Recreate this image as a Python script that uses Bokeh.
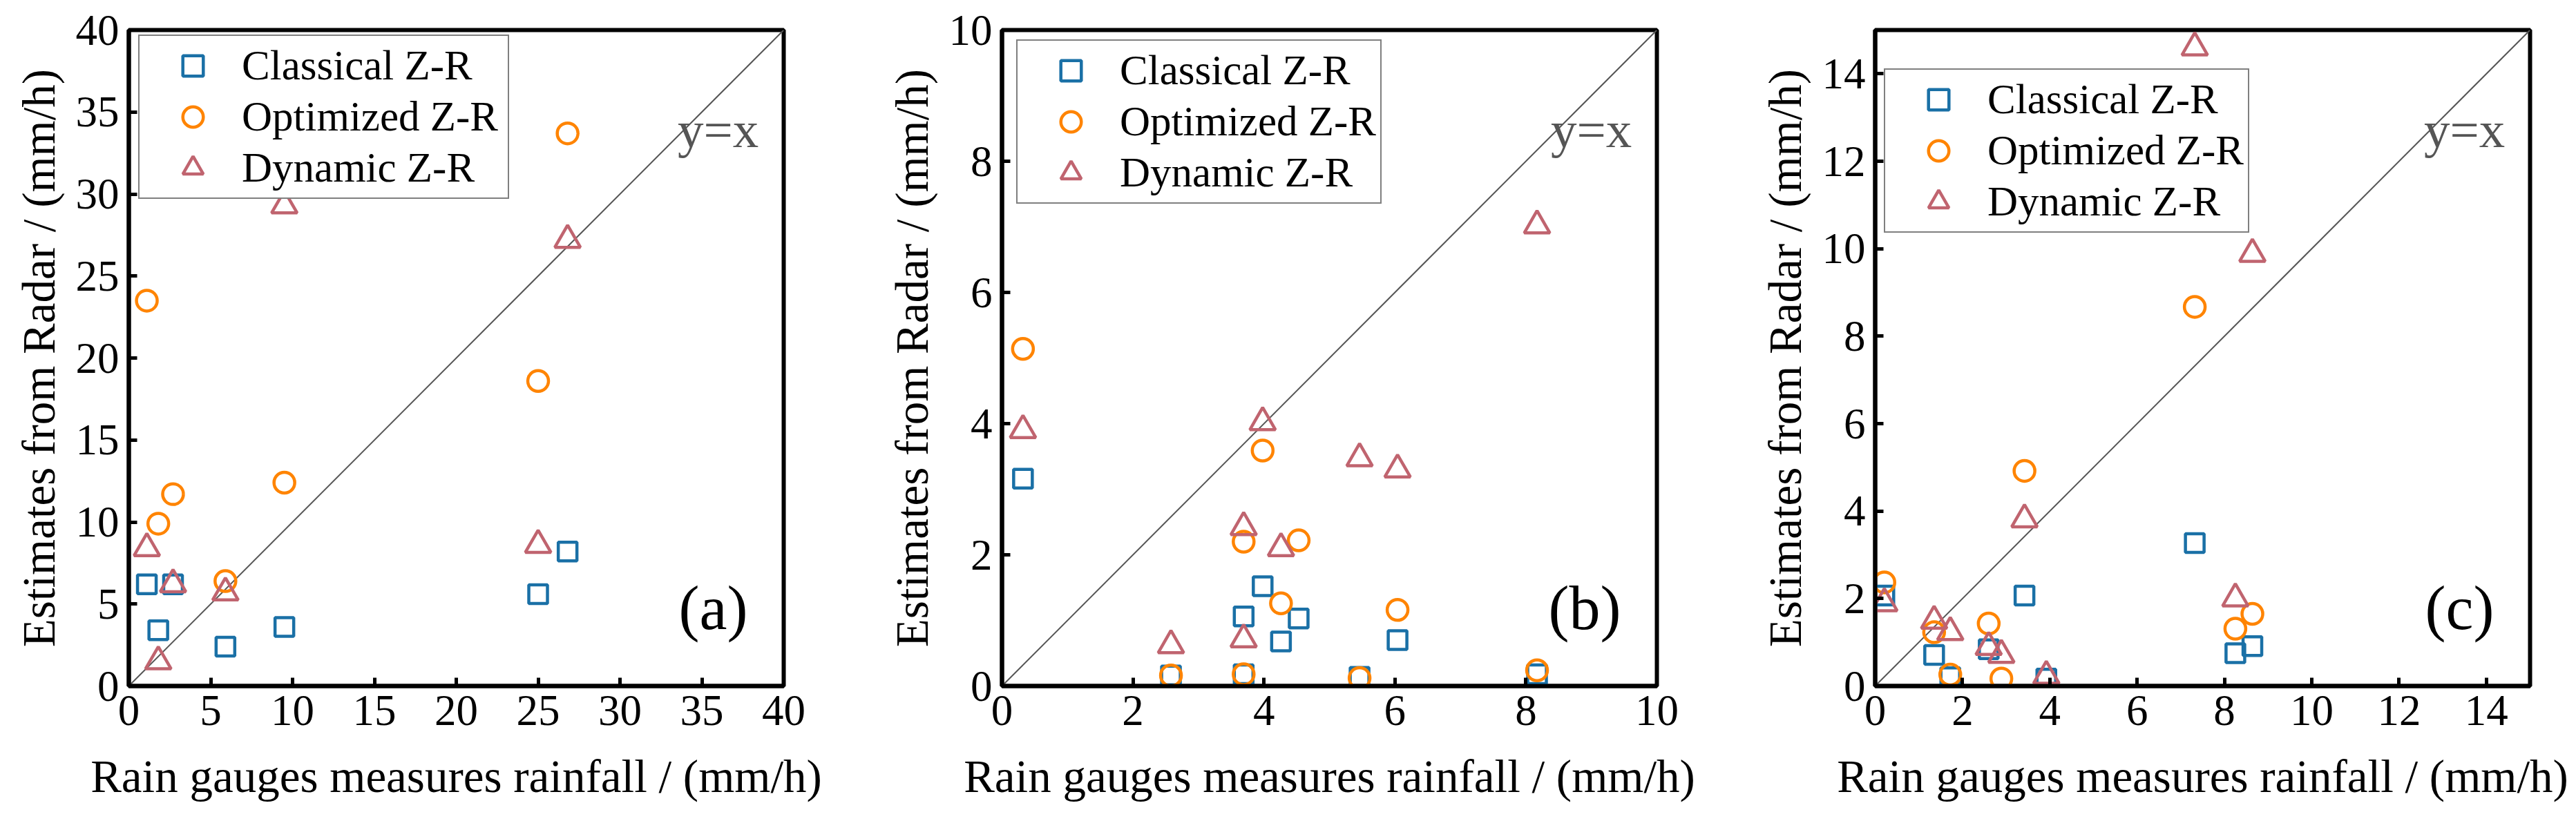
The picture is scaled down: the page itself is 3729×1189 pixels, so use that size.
from bokeh.plotting import figure
from bokeh.layouts import row
from bokeh.models import Legend, LegendItem, Label, FixedTicker, Range1d
from bokeh.embed import file_html
from bokeh.resources import INLINE

FONT = "Liberation Serif"

# ---------------- data ----------------
# panel (a)
a_cls_x = [1.1, 1.8, 2.7, 5.9, 9.5, 25.0, 26.8]
a_cls_y = [6.2, 3.4, 6.2, 2.4, 3.6, 5.6, 8.2]
a_opt_x = [1.1, 1.8, 2.7, 5.9, 9.5, 25.0, 26.8]
a_opt_y = [23.5, 9.9, 11.7, 6.4, 12.4, 18.6, 33.7]
a_dyn_x = [1.1, 1.8, 2.7, 5.9, 9.5, 25.0, 26.8]
a_dyn_y = [8.4, 1.5, 6.2, 5.7, 29.3, 8.6, 27.2]

# panel (b)
b_cls_x = [0.32, 2.58, 3.69, 3.69, 3.98, 4.26, 4.53, 5.46, 6.04, 8.17]
b_cls_y = [3.16, 0.16, 1.06, 0.18, 1.52, 0.68, 1.03, 0.14, 0.70, 0.18]
b_opt_x = [0.32, 2.58, 3.69, 3.69, 3.98, 4.26, 4.53, 5.46, 6.04, 8.17]
b_opt_y = [5.14, 0.16, 2.20, 0.18, 3.59, 1.26, 2.22, 0.12, 1.16, 0.24]
b_dyn_x = [0.32, 2.58, 3.69, 3.69, 3.98, 4.26, 5.46, 6.04, 8.17]
b_dyn_y = [3.90, 0.62, 2.42, 0.71, 4.02, 2.10, 3.47, 3.30, 7.02]

# panel (c)
c_cls_x = [0.21, 1.35, 1.72, 2.60, 3.42, 3.92, 7.32, 8.25, 8.64]
c_cls_y = [2.07, 0.71, 0.20, 0.84, 2.07, 0.17, 3.27, 0.75, 0.91]
c_opt_x = [0.21, 1.35, 1.72, 2.60, 2.89, 3.42, 7.32, 8.25, 8.64]
c_opt_y = [2.37, 1.23, 0.26, 1.43, 0.17, 4.92, 8.67, 1.31, 1.65]
c_dyn_x = [0.21, 1.35, 1.72, 2.60, 2.89, 3.42, 3.92, 7.32, 8.25, 8.64]
c_dyn_y = [1.89, 1.49, 1.23, 0.89, 0.71, 3.81, 0.23, 14.6, 2.00, 9.88]

series_names = ["Classical Z-R", "Optimized Z-R", "Dynamic Z-R"]
panel_tags = ["(a)", "(b)", "(c)"]
axis_max = [40, 10, 15]
tick_values = [list(range(0, 41, 5)), list(range(0, 11, 2)), list(range(0, 15, 2))]
x_title = "Rain gauges measures rainfall / (mm/h)"
y_title = "Estimates from Radar / (mm/h)"

panel_data = [
    [(a_cls_x, a_cls_y), (a_opt_x, a_opt_y), (a_dyn_x, a_dyn_y)],
    [(b_cls_x, b_cls_y), (b_opt_x, b_opt_y), (b_dyn_x, b_dyn_y)],
    [(c_cls_x, c_cls_y), (c_opt_x, c_opt_y), (c_dyn_x, c_dyn_y)],
]

# ---------------- styling ----------------
COLORS = ["#1a70a6", "#ff8400", "#c0646f"]
MARKERS = ["square", "circle", "triangle"]
SIZES = [27, 30, 37]
FW, FH = 948, 950
BL, BR, BT, BB = 186, 130, 43, 178
BR_LAST = 62
legend_top = [11, 18, 60]
legend_left = [14, 21, 13]
legend_label_w = [379, 360, 360]
LEG_PAD, LEG_ROW = 6, 74
LEG_H = 2 * LEG_PAD + 3 * LEG_ROW


def make_panel(i):
    xmax = axis_max[i]
    last = i == 2
    p = figure(
        frame_width=FW, frame_height=FH,
        min_border_left=BL, min_border_right=BR_LAST if last else BR,
        min_border_top=BT, min_border_bottom=BB,
        x_range=Range1d(0, xmax), y_range=Range1d(0, xmax),
        output_backend="svg", toolbar_location=None,
    )
    p.grid.visible = False
    p.outline_line_color = "black"
    p.outline_line_width = 6
    p.background_fill_color = "white"
    p.border_fill_color = "white"

    for ax in (p.xaxis[0], p.yaxis[0]):
        ax.ticker = FixedTicker(ticks=tick_values[i])
        ax.axis_line_width = 6
        ax.axis_line_color = "black"
        ax.major_tick_in = 12
        ax.major_tick_out = 0
        ax.major_tick_line_width = 5
        ax.minor_tick_line_color = None
        ax.major_label_text_font = FONT
        ax.major_label_text_font_size = "63px"
        ax.major_label_text_color = "black"
        ax.axis_label_text_font = FONT
        ax.axis_label_text_font_size = "67px"
        ax.axis_label_text_font_style = "normal"
        ax.axis_label_text_color = "black"
    p.xaxis.axis_label = x_title
    p.yaxis.axis_label = y_title
    p.xaxis.major_label_standoff = 14
    p.yaxis.major_label_standoff = 14
    p.xaxis.axis_label_standoff = 34
    p.yaxis.axis_label_standoff = 14

    # y = x reference line
    p.line([0, xmax], [0, xmax], line_color="#555555", line_width=2)

    renderers = []
    for k, (xs, ys) in enumerate(panel_data[i]):
        r = p.scatter(xs, ys, marker=MARKERS[k], size=SIZES[k],
                      fill_color=None, line_color=COLORS[k], line_width=4.5)
        renderers.append(r)

    legend = Legend(
        items=[LegendItem(label=series_names[k], renderers=[renderers[k]]) for k in range(3)],
        location=(legend_left[i], FH - legend_top[i] - LEG_H),
    )
    legend.label_text_font = FONT
    legend.label_text_font_size = "61px"
    legend.label_text_color = "black"
    legend.label_height = 60
    legend.label_width = legend_label_w[i]
    legend.glyph_height = LEG_ROW
    legend.glyph_width = 142
    legend.label_standoff = 0
    legend.padding = LEG_PAD
    legend.spacing = 0
    legend.margin = 0
    legend.border_line_color = "black"
    legend.border_line_width = 2
    legend.background_fill_color = "white"
    legend.background_fill_alpha = 1
    p.add_layout(legend)

    p.add_layout(Label(x=xmax * 0.838, y=xmax * 0.848, text="y=x",
                       text_font=FONT, text_font_size="75px", text_color="#555555",
                       text_align="left", text_baseline="alphabetic"))
    p.add_layout(Label(x=xmax * (1 - 52 / FW), y=xmax * 113 / FH, text=panel_tags[i],
                       text_font=FONT, text_font_size="90px", text_color="black",
                       text_align="right", text_baseline="alphabetic"))
    return p


figs = [make_panel(i) for i in range(3)]
layout = row(*figs)
open("out.html", "w").write(file_html(layout, INLINE))
